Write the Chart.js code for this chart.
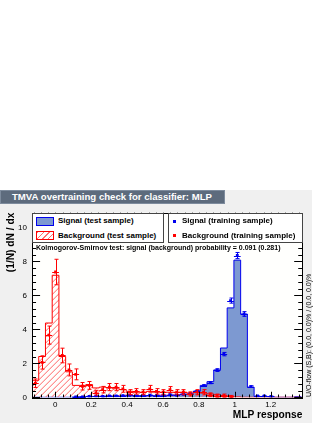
<!DOCTYPE html>
<html><head><meta charset="utf-8">
<script src="https://cdn.jsdelivr.net/npm/chart.js@4"></script>
<style>
html,body{margin:0;padding:0;background:#fff;}
#wrap{position:relative;width:327px;height:423px;overflow:hidden;font-family:"Liberation Sans",Arial,sans-serif;}
#bg{position:absolute;left:0;top:190px;width:312px;height:233px;background:#f0f0f0;}
#title{position:absolute;left:0;top:190px;width:225px;height:14px;background:#5d6b7d;border:1px solid #7d8b9d;color:#fff;font-weight:bold;font-size:9.6px;line-height:12px;padding-left:11px;box-sizing:border-box;white-space:nowrap;}
#c{position:absolute;left:0;top:0;}
.leg{position:absolute;background:#fff;border:1px solid #444;box-sizing:border-box;}
.txt{position:absolute;font-size:8px;font-weight:bold;white-space:nowrap;color:#000;line-height:10px;}
.sw{position:absolute;box-sizing:border-box;}
.mk{position:absolute;width:3px;height:3px;}
#ks{position:absolute;left:36px;top:243px;font-size:7px;font-weight:bold;white-space:nowrap;line-height:10px;}
#uo{position:absolute;left:304px;top:397px;transform-origin:0 0;transform:rotate(-90deg);font-size:7px;white-space:nowrap;line-height:9px;}
</style></head>
<body>
<div id="wrap">
  <div id="bg"></div>
  <div id="title">TMVA overtraining check for classifier: MLP</div>
  <canvas id="c" width="327" height="423"></canvas>
  <div class="leg" style="left:32px;top:213px;width:132px;height:30px;">
    <div class="sw" style="left:3px;top:3px;width:18px;height:9px;background:#7d99d1;border:1px solid #0000ee;"></div>
    <div class="txt" style="left:25px;top:2px;">Signal (test sample)</div>
    <div class="sw" style="left:3px;top:17px;width:18px;height:9px;border:1px solid #ff0000;background:repeating-linear-gradient(-45deg,#fff 0px,#fff 3px,#ff7070 3px,#ff7070 4px);"></div>
    <div class="txt" style="left:25px;top:17px;">Background (test sample)</div>
  </div>
  <div class="leg" style="left:168px;top:213px;width:135px;height:30px;">
    <div class="mk" style="left:4px;top:6px;background:#0000ee;"></div>
    <div class="txt" style="left:13px;top:2px;">Signal (training sample)</div>
    <div class="mk" style="left:4px;top:20px;background:#ff0000;"></div>
    <div class="txt" style="left:13px;top:17px;">Background (training sample)</div>
  </div>
  <div id="ks">Kolmogorov-Smirnov test: signal (background) probability = 0.091 (0.281)</div>
  <div id="uo">U/O-flow (S,B): (0.0, 0.0)% / (0.0, 0.0)%</div>
</div>
<script>
// ---- data ----
const binStart = -0.13;
const binWidth = 0.0375;
const xTicks = [0, 0.2, 0.4, 0.6, 0.8, 1, 1.2];
const xTickLabels = ["0", "0.2", "0.4", "0.6", "0.8", "1", "1.2"];
const yTicks = [0, 2, 4, 6, 8, 10];
const yTickLabels = ["0", "2", "4", "6", "8", "10"];
const sigTest = [0,0,0,0,0,0,0.02,0.03,0.05,0.05,0.06,0.07,0.08,0.08,0.1,0.1,0.1,0.1,0.1,0.12,0.12,0.15,0.18,0.2,0.37,0.7,0.92,1.61,2.9,5.26,8.07,4.9,0.6,0.05,0.05,0.03,0,0,0,0.03];
const sigTrain = [null,null,null,null,null,null,0.02,0.03,0.05,0.06,0.05,0.08,0.08,0.1,0.12,0.08,0.1,0.12,0.1,0.1,0.15,0.12,0.18,0.22,0.35,0.69,0.86,1.6,2.54,5.69,8.34,4.9,0.63,0.08,0.08,0.05,null,null,null,null];
const sigTrainErr = [0,0,0,0,0,0,0.01,0.01,0.015,0.015,0.015,0.02,0.02,0.02,0.02,0.02,0.02,0.02,0.02,0.02,0.025,0.02,0.025,0.03,0.04,0.05,0.06,0.08,0.1,0.15,0.18,0.14,0.05,0.02,0.02,0.015,0,0,0,0];
const bkgTest = [1.0,2.4,4.37,7.18,2.4,1.5,0.7,0.7,0.75,0.55,0.6,0.55,0.5,0.45,0.35,0.3,0.3,0.35,0.3,0.3,0.3,0.3,0.3,0.25,0.3,0.25,0.2,0.15,0.1,0.05,0.02,0,0,0,0,0,0,0,0,0];
const bkgTrain = [0.83,2.05,3.66,7.37,2.46,1.61,1.35,0.65,0.7,0.27,0.45,0.6,0.6,0.5,0.3,0.35,0.3,0.5,0.35,0.3,0.45,0.3,0.3,0.2,0.3,0.3,0.15,0.1,0.1,0.05,null,null,null,null,null,null,null,null,null,null];
const bkgTrainErr = [0.25,0.39,0.53,0.75,0.43,0.35,0.32,0.22,0.23,0.14,0.19,0.21,0.21,0.2,0.15,0.16,0.15,0.2,0.16,0.15,0.18,0.15,0.15,0.12,0.15,0.15,0.11,0.09,0.09,0.06,0,0,0,0,0,0,0,0,0,0];
const xMin = -0.13, xMax = 1.376, yMax = 10.86;

// ---- build ----
function stepData(vals){
  const pts=[{x:binStart,y:0}];
  vals.forEach((v,i)=>pts.push({x:binStart+i*binWidth,y:v}));
  pts.push({x:binStart+vals.length*binWidth,y:vals[vals.length-1]});
  pts.push({x:binStart+vals.length*binWidth,y:0});
  return pts;
}
function pointData(vals){
  return vals.map((v,i)=>({x:binStart+(i+0.5)*binWidth,y:v}));
}
const ctx=document.getElementById('c').getContext('2d');

const hatchPlugin={id:'hatch',
  beforeDatasetDraw(chart,args){
    const ds=chart.data.datasets[args.index]; if(!ds.hatchColor) return;
    const xs=chart.scales.x, ys=chart.scales.y, g=chart.ctx, a=chart.chartArea;
    g.save();
    g.beginPath(); g.rect(a.left,a.top,a.right-a.left,a.bottom-a.top); g.clip();
    g.beginPath();
    const P=ds.data.map(p=>({x:xs.getPixelForValue(p.x),y:ys.getPixelForValue(p.y)}));
    g.moveTo(P[0].x,P[0].y);
    for(let i=1;i<P.length;i++){g.lineTo(P[i].x,P[i-1].y);g.lineTo(P[i].x,P[i].y);}
    g.closePath(); g.clip();
    g.strokeStyle=ds.hatchColor; g.lineWidth=1; g.beginPath();
    const H=a.bottom-a.top;
    for(let x=a.left-H;x<a.right;x+=6){g.moveTo(x,a.bottom);g.lineTo(x+H,a.top);}
    g.stroke(); g.restore();
  }};
const errPlugin={id:'errbars',
  beforeDatasetDraw(chart,args){
    const ds=chart.data.datasets[args.index]; if(!ds.errors) return;
    const xs=chart.scales.x, ys=chart.scales.y, g=chart.ctx;
    g.save(); g.strokeStyle=ds.borderColor; g.lineWidth=1;
    ds.data.forEach((p,i)=>{ if(p.y==null) return; const e=ds.errors[i];
      const px=Math.round(xs.getPixelForValue(p.x))+0.5, py=Math.round(ys.getPixelForValue(p.y))+0.5;
      const x0=xs.getPixelForValue(p.x-binWidth/2), x1=xs.getPixelForValue(p.x+binWidth/2);
      const yt=ys.getPixelForValue(p.y+e), yb=ys.getPixelForValue(Math.max(0,p.y-e));
      g.beginPath(); g.moveTo(x0,py); g.lineTo(x1,py);
      g.moveTo(px,yt); g.lineTo(px,yb);
      g.moveTo(px-2,yt); g.lineTo(px+2,yt); g.moveTo(px-2,yb); g.lineTo(px+2,yb);
      g.stroke();
    });
    g.restore();
  }};
const framePlugin={id:'frame',
  beforeDraw(chart){const a=chart.chartArea,g=chart.ctx;g.save();g.fillStyle='#fffffd';g.fillRect(a.left,a.top,a.right-a.left,a.bottom-a.top);g.restore();},
  afterDraw(chart){
    const a=chart.chartArea,g=chart.ctx,xs=chart.scales.x,ys=chart.scales.y;
    g.save();g.strokeStyle='#000';g.lineWidth=1;
    g.strokeRect(Math.round(a.left)+0.5,Math.round(a.top)+0.5,Math.round(a.right-a.left),Math.round(a.bottom-a.top));
    g.beginPath();
    const h=a.bottom-a.top, w=a.right-a.left;
    for(let k=-3;k<=34;k++){const v=k*0.04; if(v<xMin||v>xMax) continue;
      const px=Math.round(xs.getPixelForValue(v))+0.5; const major=(k%5===0); const L=major?0.03*h:0.015*h;
      g.moveTo(px,a.bottom);g.lineTo(px,a.bottom-L);g.moveTo(px,a.top);g.lineTo(px,a.top+L);}
    for(let k=0;k<=27;k++){const v=k*0.4; if(v>yMax) continue;
      const py=Math.round(ys.getPixelForValue(v))+0.5; const major=(k%5===0); const L=major?0.03*w:0.015*w;
      g.moveTo(a.left,py);g.lineTo(a.left+L,py);g.moveTo(a.right,py);g.lineTo(a.right-L,py);}
    g.stroke();g.restore();
  }};

new Chart(ctx,{
  type:'line',
  data:{datasets:[
    {label:'Signal (test sample)',data:stepData(sigTest),stepped:'before',fill:'origin',backgroundColor:'#7d99d1',borderColor:'#0000ee',borderWidth:1,pointRadius:0,order:4},
    {label:'Background (test sample)',data:stepData(bkgTest),stepped:'before',fill:false,hatchColor:'#ff6666',backgroundColor:'rgba(0,0,0,0)',borderColor:'#ff0000',borderWidth:1,pointRadius:0,order:3},
    {label:'Signal (training sample)',data:pointData(sigTrain),errors:sigTrainErr,showLine:false,pointStyle:'rect',pointRadius:2,backgroundColor:'#0000ee',borderColor:'#0000ee',borderWidth:0,order:2},
    {label:'Background (training sample)',data:pointData(bkgTrain),errors:bkgTrainErr,showLine:false,pointStyle:'rect',pointRadius:2,backgroundColor:'#ff0000',borderColor:'#ff0000',borderWidth:0,order:1}
  ]},
  options:{responsive:false,animation:false,
    layout:{padding:{top:212.7,right:24.7,left:0,bottom:0}},
    plugins:{legend:{display:false},tooltip:{enabled:false}},
    scales:{
      x:{type:'linear',min:xMin,max:xMax,
        afterFit(s){s.height=25.7;},
        afterBuildTicks(s){s.ticks=xTicks.map(v=>({value:v}));},
        grid:{display:false,drawTicks:false},border:{display:false},
        ticks:{padding:3,color:'#000',font:{family:'Liberation Sans',size:8},maxRotation:0,autoSkip:false,
          callback:(v)=>xTickLabels[xTicks.indexOf(v)]},
        title:{display:true,text:'MLP response',align:'end',color:'#000',font:{family:'Liberation Sans',size:10.2,weight:'bold'},padding:{top:0,bottom:2}}},
      y:{type:'linear',min:0,max:yMax,
        afterFit(s){s.width=32;},
        afterBuildTicks(s){s.ticks=yTicks.map(v=>({value:v}));},
        grid:{display:false,drawTicks:false},border:{display:false},
        ticks:{padding:5,color:'#000',font:{family:'Liberation Sans',size:8},autoSkip:false,
          callback:(v)=>yTickLabels[yTicks.indexOf(v)]},
        title:{display:true,text:'(1/N) dN / dx',align:'end',color:'#000',font:{family:'Liberation Sans',size:10.2,weight:'bold'},padding:{top:5,bottom:0}}}
    }},
  plugins:[hatchPlugin,errPlugin,framePlugin]
});
</script>
</body></html>
